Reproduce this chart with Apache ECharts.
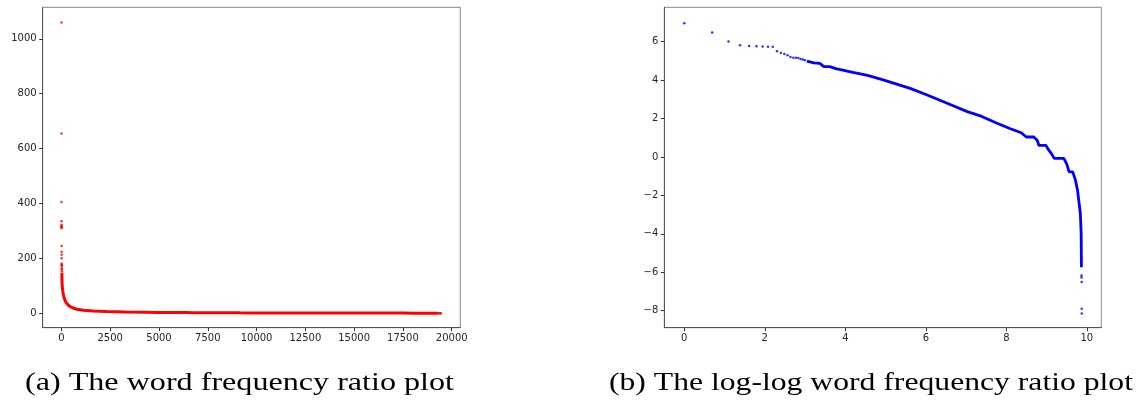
<!DOCTYPE html>
<html>
<head>
<meta charset="utf-8" />
<title>word frequency ratio</title>
<script src="https://cdn.jsdelivr.net/npm/echarts@6/dist/echarts.min.js"></script>
<style>
  html, body { margin: 0; padding: 0; background: #fff; }
  #chart { width: 1138px; height: 406px; }
</style>
</head>
<body>
<div id="chart"></div>
<script type="text/javascript">
// top ranked words, plotted one dot each
var topRanks  = [1, 2, 3, 4, 5, 6, 7, 8, 9, 10, 11, 12, 13, 14, 15, 16, 17, 18, 19, 20];
var topRatios = [1060, 655, 405, 335, 322, 318, 316, 312, 310, 245, 224, 213, 200, 181, 176, 175, 172, 164, 159, 153];

// the dense body of the curve
var bodyRanks  = [21, 22, 25, 29, 32, 37, 44, 47, 66, 95, 134, 192, 273, 392, 556, 796, 1130, 1620, 2300, 3300,
                  4320, 4900, 5900, 6440, 6700, 8000, 8350, 9140, 9800, 12450, 13360, 14190, 15530, 16650,
                  17500, 18030, 18770, 19150, 19260, 19270];
var bodyRatios = [147, 145, 134, 130, 110, 110, 98, 96, 82, 70, 57, 45, 35.5, 26.6, 19.7, 14.4, 10.6, 8.25, 5.93, 4.35,
                  3.53, 2.83, 2.83, 2.36, 1.82, 1.82, 1.54, 1.19, 0.93, 0.93, 0.70, 0.46, 0.46, 0.295,
                  0.176, 0.104, 0.052, 0.0185, 0.0039, 0.0032];

// last few words, isolated dots
var tailRanks  = [19300, 19320, 19350, 19420, 19450];
var tailRatios = [0.0021, 0.0019, 0.0015, 0.00037, 0.00029];

var ticksA_x = [0, 2500, 5000, 7500, 10000, 12500, 15000, 17500, 20000];
var ticksA_y = [0, 200, 400, 600, 800, 1000];
var ticksB_x = [0, 2, 4, 6, 8, 10];
var ticksB_y = [-8, -6, -4, -2, 0, 2, 4, 6];

var captions = ['(a) The word frequency ratio plot', '(b) The log-log word frequency ratio plot'];

function pairs(xs, ys, f) {
	return xs.map(function (x, i) { return f ? [f(x), f(ys[i])] : [x, ys[i]]; });
}
function minus(v) { return v < 0 ? '\u2212' + (-v) : String(v); }

var labelStyle = { fontFamily: 'DejaVu Sans', fontSize: 10, color: '#262626', margin: 6 };

function axis(grid, min, max, ticks) {
	return {
		type: 'value', gridIndex: grid, min: min, max: max,
		axisLine: { show: true, onZero: false, lineStyle: { color: '#555', width: 1 } },
		axisTick: { show: true, length: 3.5, customValues: ticks, lineStyle: { color: '#333' } },
		axisLabel: Object.assign({ customValues: ticks, formatter: minus }, labelStyle),
		splitLine: { show: false }
	};
}

// caption: serif, stretched a bit so it spans the same width as the latex caption
var capFont = '25px "Liberation Serif"';
var ctx = document.createElement('canvas').getContext('2d');
ctx.font = capFont;
function capText(str, x, w) {
	var sx = w / ctx.measureText(str).width;
	return { type: 'text', x: x, y: 371, scaleX: sx, style: { text: str, font: capFont, fill: '#000' } };
}

var myChart = echarts.init(document.getElementById('chart'), null, { renderer: 'canvas' });
var option = {
	animation: false,
	backgroundColor: '#fff',
	grid: [
		{ left: 42.7, top: 7.3, width: 417.6, height: 320.4, show: true, borderColor: '#888', borderWidth: 1 },
		{ left: 664.3, top: 7.3, width: 437, height: 320.4, show: true, borderColor: '#888', borderWidth: 1 }
	],
	xAxis: [
		axis(0, -960, 20440, ticksA_x),
		axis(1, -0.497, 10.36, ticksB_x)
	],
	yAxis: [
		axis(0, -53, 1115, ticksA_y),
		axis(1, -8.885, 7.79, ticksB_y)
	],
	graphic: [
		capText(captions[0], 25, 429),
		capText(captions[1], 609, 524)
	],
	series: [
		// (a) plain
		{ type: 'scatter', xAxisIndex: 0, yAxisIndex: 0, symbolSize: 2.5, itemStyle: { color: '#ff0000' },
		  data: pairs(topRanks, topRatios) },
		{ type: 'line', xAxisIndex: 0, yAxisIndex: 0, showSymbol: false, lineStyle: { color: '#ff0000', width: 3 },
		  data: pairs(bodyRanks, bodyRatios) },
		{ type: 'scatter', xAxisIndex: 0, yAxisIndex: 0, symbolSize: 2.5, itemStyle: { color: '#ff0000' },
		  data: pairs(tailRanks, tailRatios) },
		// (b) log-log
		{ type: 'scatter', xAxisIndex: 1, yAxisIndex: 1, symbolSize: 2.5, itemStyle: { color: '#0000ff' },
		  data: pairs(topRanks, topRatios, Math.log) },
		{ type: 'line', xAxisIndex: 1, yAxisIndex: 1, showSymbol: false, lineStyle: { color: '#0000ff', width: 2.8 },
		  data: pairs(bodyRanks, bodyRatios, Math.log) },
		{ type: 'scatter', xAxisIndex: 1, yAxisIndex: 1, symbolSize: 2.5, itemStyle: { color: '#0000ff' },
		  data: pairs(tailRanks, tailRatios, Math.log) }
	]
};
myChart.setOption(option);
</script>
</body>
</html>
